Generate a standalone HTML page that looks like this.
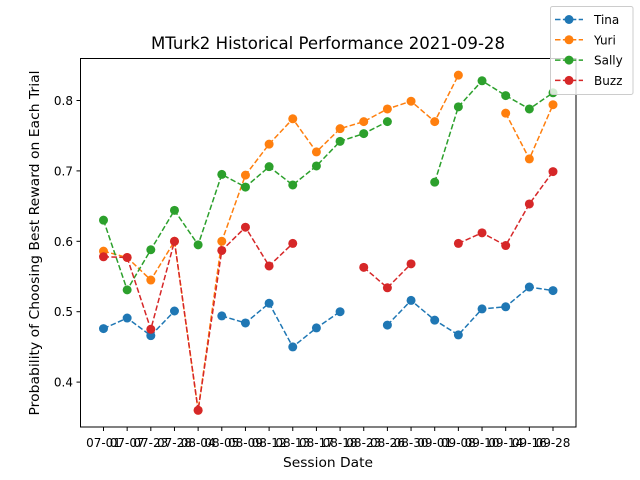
<!DOCTYPE html>
<html><head><meta charset="utf-8"><style>
body{margin:0;background:#fff}
svg{display:block;font-family:"DejaVu Sans","Liberation Sans",sans-serif}
</style></head><body>
<svg id="chart" width="640" height="480" viewBox="0 0 640 480" xmlns="http://www.w3.org/2000/svg">
<rect width="640" height="480" fill="#fff"/>
<text x="328" y="49" font-size="16.5" text-anchor="middle" textLength="354" lengthAdjust="spacingAndGlyphs">MTurk2 Historical Performance 2021-09-28</text>
<text x="328" y="467" font-size="13.5" text-anchor="middle" textLength="90" lengthAdjust="spacingAndGlyphs">Session Date</text>
<text transform="translate(39,243) rotate(-90)" font-size="13.5" text-anchor="middle" textLength="345" lengthAdjust="spacingAndGlyphs">Probability of Choosing Best Reward on Each Trial</text>
<g id="plot"></g>
<rect x="80.5" y="58.5" width="495.5" height="368.5" fill="none" stroke="#000" stroke-width="1"/>
<g id="legend"></g>
</svg>
<script>
const categories=["07-01","07-07","07-23","07-28","08-04","08-05","08-09","08-12","08-13","08-17","08-18","08-23","08-26","08-30","09-01","09-08","09-10","09-14","09-16","09-28"];
const yTicks=[0.4,0.5,0.6,0.7,0.8];
const seriesNames=["Tina","Yuri","Sally","Buzz"];
const seriesColors=["#1f77b4","#ff7f0e","#2ca02c","#d62728"];
const tina=[0.476,0.491,0.466,0.501,null,0.494,0.484,0.512,0.450,0.477,0.500,null,0.481,0.516,0.488,0.467,0.504,0.507,0.535,0.530];
const yuri=[0.586,0.577,0.545,0.600,0.360,0.600,0.694,0.738,0.774,0.727,0.760,0.770,0.788,0.799,0.770,0.836,null,0.782,0.717,0.794];
const sally=[0.630,0.531,0.588,0.644,0.595,0.695,0.677,0.706,0.680,0.707,0.742,0.753,0.770,null,0.684,0.791,0.828,0.807,0.788,0.811];
const buzz=[0.578,0.577,0.475,0.600,0.360,0.587,0.620,0.565,0.597,null,null,0.563,0.534,0.568,null,0.597,0.612,0.594,0.653,0.699];
const NS="http://www.w3.org/2000/svg";
const xS=i=>103.5+i*(553-103.5)/19;
const yS=v=>100.5+(0.8-v)*704;
const plot=document.getElementById('plot');
function mk(t,a,p){const e=document.createElementNS(NS,t);for(const k in a)e.setAttribute(k,a[k]);(p||plot).appendChild(e);return e;}
yTicks.forEach(v=>{const y=yS(v);
 const t=mk('line',{x1:76.5,x2:80.5,y1:y,y2:y,stroke:'#000'});
 
 
 const l=mk('text',{x:73,y:y+4.5,'font-size':12,'text-anchor':'end'});l.textContent=v.toFixed(1);
 
 
});
categories.forEach((c,i)=>{const x=xS(i);
 const t=mk('line',{x1:x,x2:x,y1:427,y2:431,stroke:'#000'});
 
 
 const l=mk('text',{x:x,y:447,'font-size':12,'text-anchor':'middle'});l.textContent=c;
 
 
});
[tina,yuri,sally,buzz].forEach((s,k)=>{
 const g=mk('g',{});
 
 
 let d='',pen=false;
 s.forEach((v,i)=>{if(v===null){pen=false;return;}d+=(pen?'L':'M')+xS(i)+' '+yS(v)+' ';pen=true;});
 const p=mk('path',{d:d,fill:'none',stroke:seriesColors[k],'stroke-width':1.5,'stroke-dasharray':'5.5,2.4'},g);
 
 
 s.forEach((v,i)=>{if(v===null)return;
  const c=mk('circle',{cx:xS(i),cy:yS(v),r:4.5,fill:seriesColors[k]},g);
  
  
 });
});
const lg=document.getElementById('legend');
mk('rect',{x:550.5,y:6.5,width:82.5,height:88,rx:2,fill:'#fff','fill-opacity':0.8,stroke:'#ccc'},lg);
seriesNames.forEach((n,k)=>{const y=19.5+k*20.3;
 const e=mk('g',{},lg);
 
 
 mk('line',{x1:555,x2:583,y1:y,y2:y,stroke:seriesColors[k],'stroke-width':1.5,'stroke-dasharray':'5.5,2.4'},e);
 mk('circle',{cx:569,cy:y,r:4.5,fill:seriesColors[k]},e);
 const t=mk('text',{x:594,y:y+4.5,'font-size':12},e);t.textContent=n;
});
</script>
</body></html>
